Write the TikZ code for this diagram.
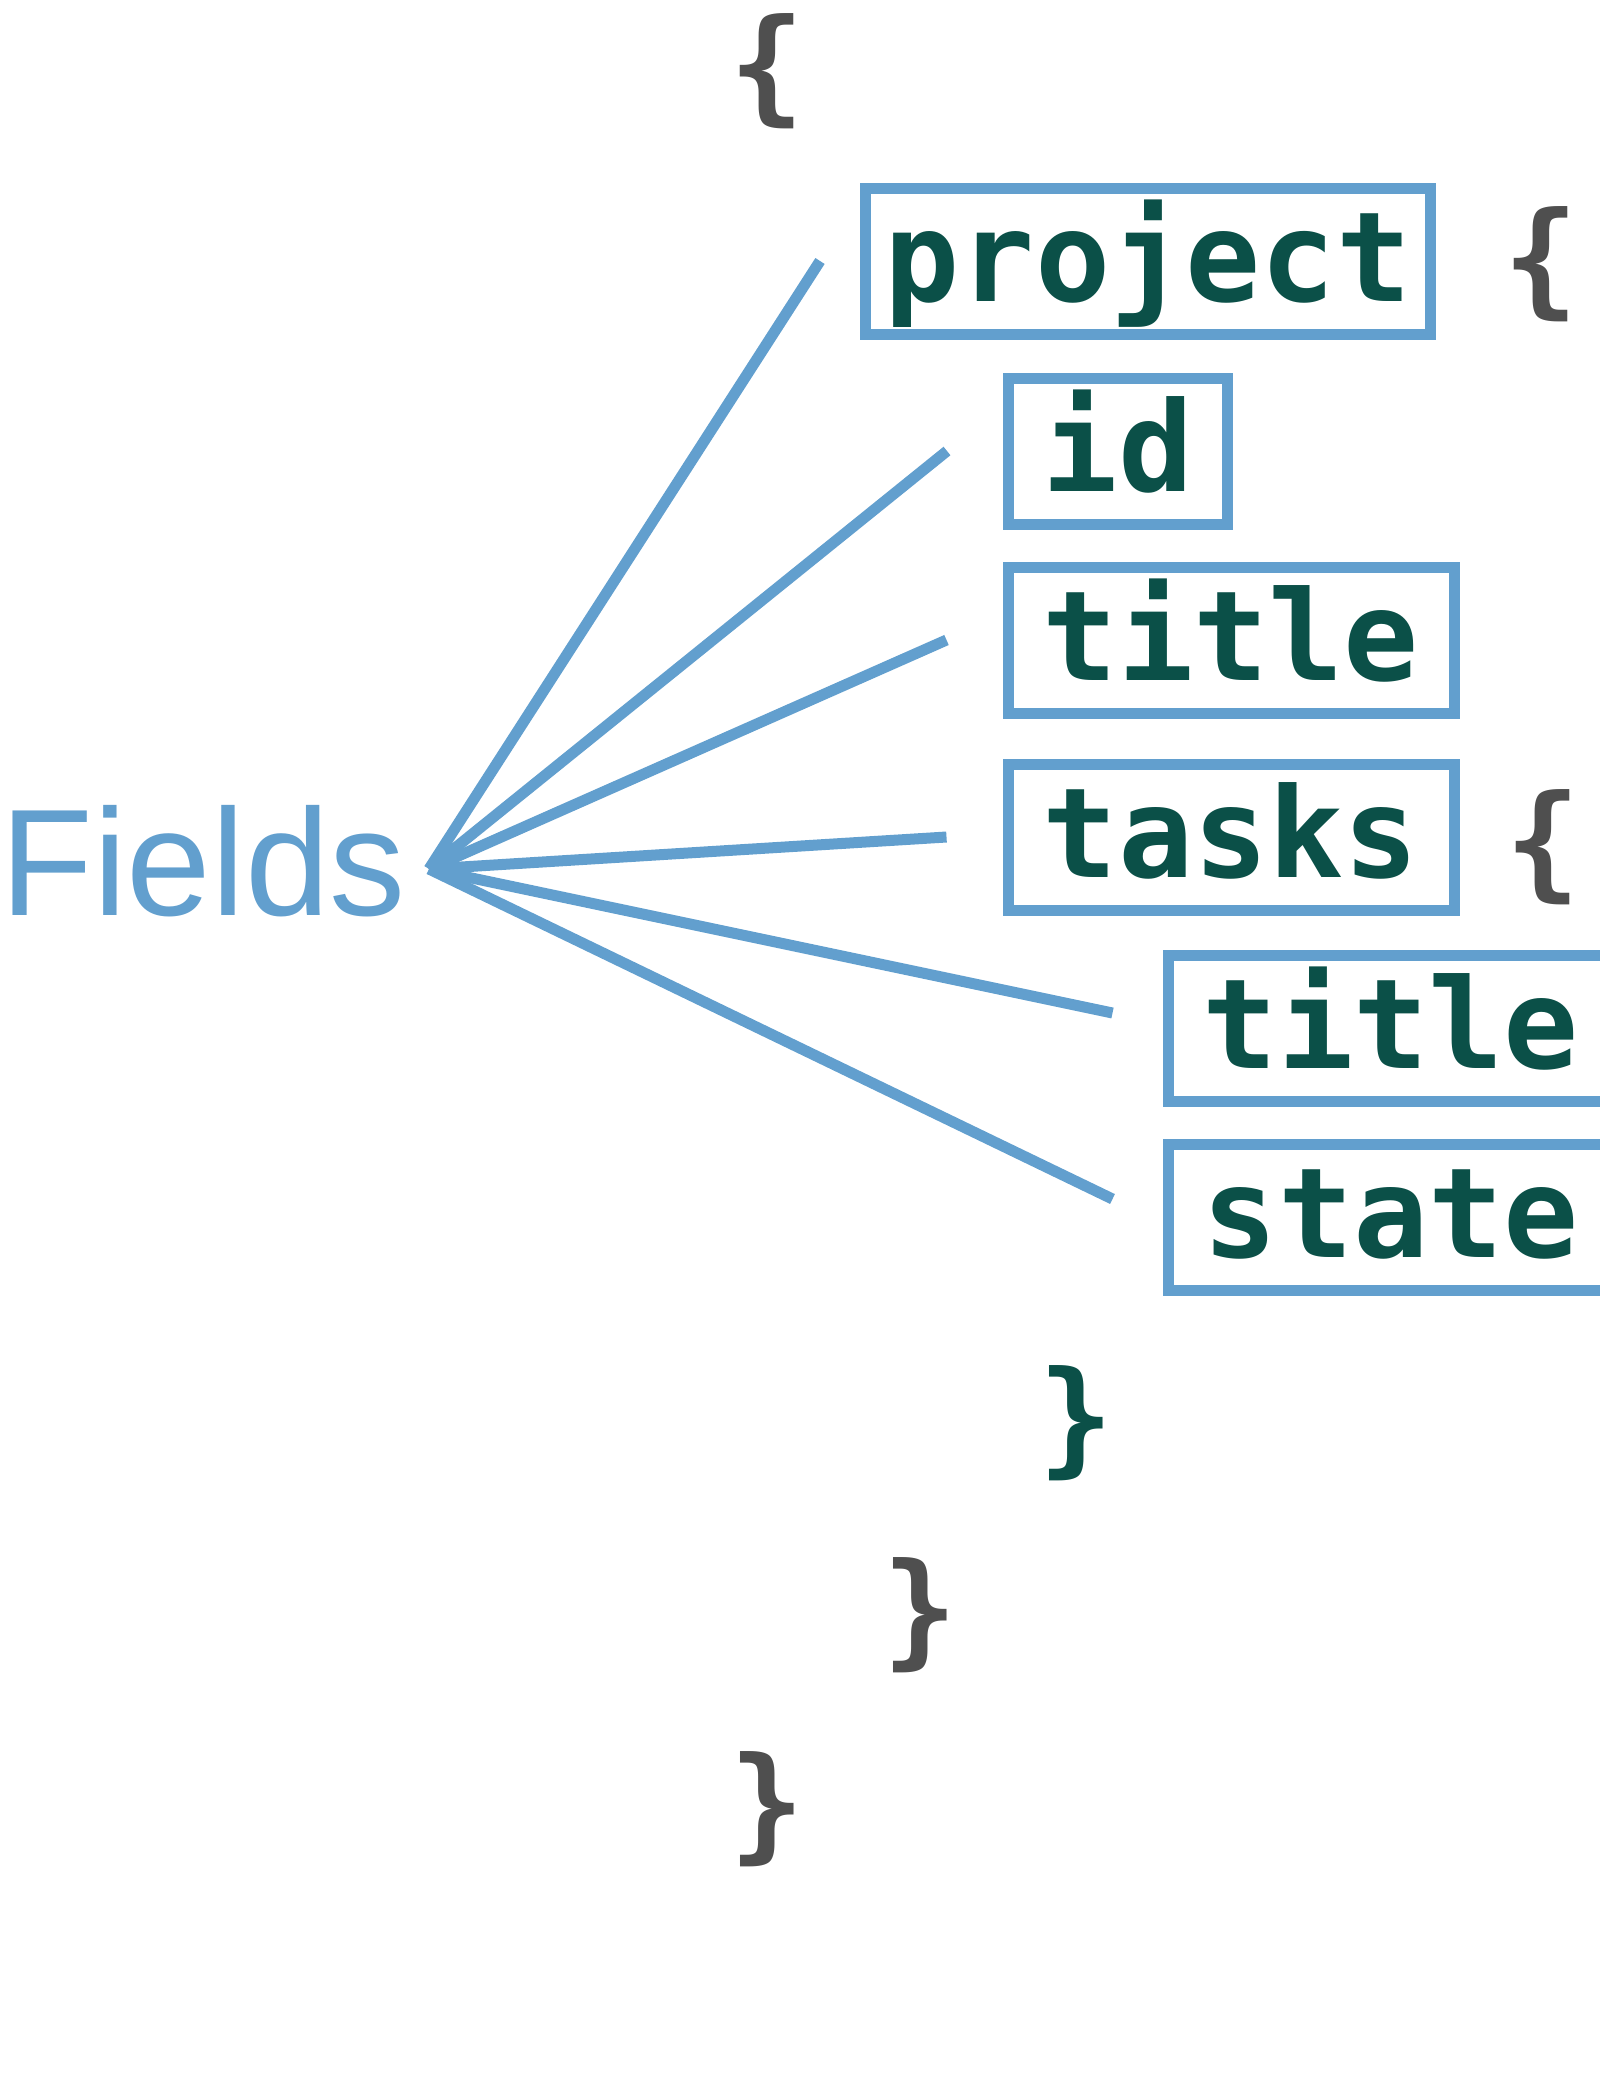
\documentclass[tikz,border=0pt]{standalone}
\usepackage{fontspec}
\setmainfont{Liberation Sans}
\setmonofont{DejaVu Sans Mono}
\definecolor{fieldblue}{HTML}{629FCE}
\definecolor{codegreen}{HTML}{0B5048}
\definecolor{bracegray}{HTML}{4F4F4F}
\tikzset{
  fieldbox/.style = {draw = fieldblue, line width = 11pt, text = codegreen,
    font = \fontsize{125}{150}\selectfont\ttfamily\bfseries,
    text height = 105pt, text depth = 25pt, minimum height = 146pt, inner xsep = 0pt},
  brace/.style = {text = bracegray, inner sep = 0pt,
    font = \fontsize{125}{150}\selectfont\ttfamily\bfseries},
  link/.style = {draw = fieldblue, line width = 11pt},
}
\begin{document}
\begin{tikzpicture}[x = 1pt, y = -1pt]
  \useasboundingbox (0, 0) rectangle (1600, 2091);

  \node[brace] (open) at (767, 71) {\{};
  \node[fieldbox, minimum width = 565pt] (project) at (1148, 261) {project};
  \node[brace] (projopen) at (1541, 264) {\{};
  \node[fieldbox, minimum width = 219pt] (id) at (1118, 451) {id};
  \node[fieldbox, minimum width = 446pt] (title) at (1231, 640) {title};
  \node[fieldbox, minimum width = 446pt] (tasks) at (1231, 837) {tasks};
  \node[brace] (tasksopen) at (1543, 847) {\{};
  \node[fieldbox, minimum width = 446pt] (tasktitle) at (1391, 1028) {title};
  \node[fieldbox, minimum width = 446pt] (state) at (1391, 1217) {state};
  \node[brace, text = codegreen] (tasksclose) at (1076, 1423) {\}};
  \node[brace] (projclose) at (920, 1615) {\}};
  \node[brace] (close) at (767, 1809) {\}};

  \node[text = fieldblue, inner sep = 0pt, anchor = base west,
    font = \fontsize{152}{180}\selectfont] (fields) at (0, 915) {Fields};

  \coordinate (hub) at (429, 869);
  \coordinate (e1) at ([xshift = -40pt]project.west);
  \coordinate (e2) at ([xshift = -56pt]id.west);
  \coordinate (e3) at ([xshift = -56pt]title.west);
  \coordinate (e4) at ([xshift = -56pt]tasks.west);
  \coordinate (e5) at ([xshift = -50pt, yshift = 15pt]tasktitle.west);
  \coordinate (e6) at ([xshift = -50pt, yshift = 18pt]state.west);

  \draw[link] (hub) -- (e1);
  \draw[link] (hub) -- (e2);
  \draw[link] (hub) -- (e3);
  \draw[link] (hub) -- (e4);
  \draw[link] (hub) -- (e5);
  \draw[link] (hub) -- (e6);
\end{tikzpicture}
\end{document}
